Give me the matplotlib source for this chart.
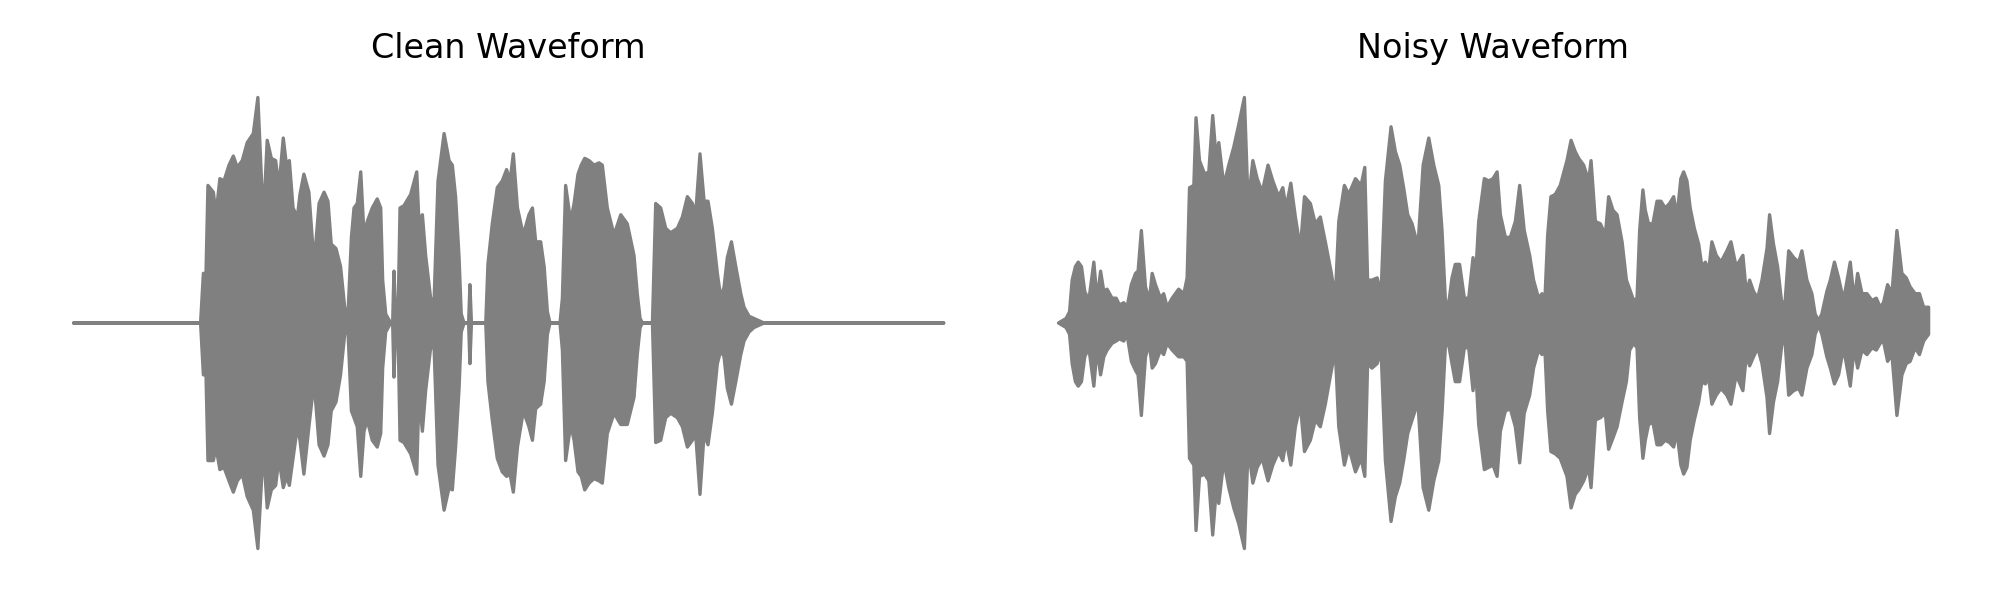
import numpy as np
import matplotlib
matplotlib.use("Agg")
import matplotlib.pyplot as plt

# envelope of each waveform (time in s, amplitude normalised)
clean_t = [0.0, 0.585, 0.598, 0.610, 0.619, 0.644, 0.656, 0.674, 0.693, 0.716,
           0.736, 0.754, 0.777, 0.800, 0.828, 0.849, 0.874, 0.892, 0.911, 0.931,
           0.946, 0.966, 0.982, 0.994, 1.011, 1.031, 1.043, 1.061, 1.084, 1.108,
           1.131, 1.154, 1.172, 1.187, 1.209, 1.230, 1.249, 1.264, 1.280, 1.292,
           1.307, 1.323, 1.338, 1.353, 1.376, 1.399, 1.415, 1.424, 1.438, 1.461,
           1.470, 1.476, 1.485, 1.495, 1.504, 1.522, 1.553, 1.581, 1.591, 1.607,
           1.622, 1.645, 1.661, 1.679, 1.707, 1.730, 1.745, 1.760, 1.776, 1.786,
           1.799, 1.820, 1.826, 1.833, 1.899, 1.909, 1.929, 1.952, 1.975, 1.995,
           2.011, 2.026, 2.045, 2.072, 2.098, 2.114, 2.129, 2.152, 2.168, 2.183,
           2.195, 2.241, 2.252, 2.267, 2.290, 2.306, 2.324, 2.339, 2.355, 2.375,
           2.398, 2.421, 2.436, 2.459, 2.490, 2.521, 2.551, 2.582, 2.597, 2.610,
           2.621, 2.667, 2.682, 2.705, 2.728, 2.751, 2.782, 2.805, 2.828, 2.851,
           2.866, 2.886, 2.905, 2.923, 2.943, 2.966, 2.982, 2.997, 3.012, 3.031,
           3.051, 3.074, 3.089, 3.112, 3.135, 3.158, 3.181, 4.009]
clean_upper = [0, 0, 0.22, 0.22, 0.61, 0.58, 0.48, 0.64, 0.63, 0.70,
               0.74, 0.69, 0.72, 0.80, 0.84, 1.00, 0.45, 0.81, 0.73, 0.72,
               0.60, 0.82, 0.69, 0.72, 0.51, 0.47, 0.57, 0.66, 0.58, 0.26,
               0.53, 0.58, 0.54, 0.35, 0.33, 0.25, 0.07, 0.03, 0.38, 0.51,
               0.53, 0.67, 0.39, 0.45, 0.51, 0.55, 0.51, 0.19, 0.04, 0,
               0, 0.23, 0, 0.04, 0.51, 0.52, 0.57, 0.67, 0.45, 0.48,
               0.30, 0.11, 0.10, 0.63, 0.84, 0.72, 0.70, 0.56, 0.29, 0.04,
               0, 0, 0.17, 0, 0, 0.26, 0.44, 0.60, 0.63, 0.68,
               0.63, 0.75, 0.51, 0.39, 0.48, 0.51, 0.36, 0.36, 0.25, 0.05,
               0, 0, 0.11, 0.61, 0.45, 0.53, 0.66, 0.70, 0.73, 0.72,
               0.70, 0.71, 0.70, 0.51, 0.39, 0.48, 0.44, 0.30, 0.13, 0.02,
               0, 0, 0.53, 0.51, 0.42, 0.40, 0.42, 0.47, 0.56, 0.53,
               0.48, 0.75, 0.54, 0.54, 0.42, 0.22, 0.11, 0.16, 0.29, 0.36,
               0.25, 0.13, 0.07, 0.03, 0.02, 0.01, 0, 0]
clean_lower = [0, 0, -0.23, -0.23, -0.61, -0.61, -0.55, -0.65, -0.64, -0.70,
               -0.75, -0.70, -0.67, -0.77, -0.83, -1.00, -0.55, -0.82, -0.74, -0.72,
               -0.60, -0.73, -0.68, -0.72, -0.60, -0.46, -0.52, -0.67, -0.46, -0.26,
               -0.54, -0.59, -0.54, -0.39, -0.35, -0.23, -0.05, -0.03, -0.39, -0.42,
               -0.46, -0.68, -0.48, -0.43, -0.52, -0.55, -0.49, -0.20, -0.04, 0,
               0, -0.24, 0, -0.04, -0.52, -0.53, -0.58, -0.67, -0.32, -0.48,
               -0.30, -0.11, -0.11, -0.63, -0.83, -0.73, -0.74, -0.55, -0.29, -0.04,
               0, 0, -0.18, 0, 0, -0.26, -0.43, -0.60, -0.66, -0.68,
               -0.67, -0.75, -0.55, -0.39, -0.46, -0.52, -0.38, -0.36, -0.26, -0.05,
               0, 0, -0.12, -0.61, -0.45, -0.52, -0.66, -0.68, -0.74, -0.71,
               -0.69, -0.70, -0.71, -0.49, -0.40, -0.45, -0.45, -0.33, -0.14, -0.02,
               0, 0, -0.53, -0.52, -0.42, -0.40, -0.42, -0.46, -0.55, -0.52,
               -0.49, -0.76, -0.49, -0.54, -0.40, -0.18, -0.12, -0.15, -0.29, -0.36,
               -0.26, -0.14, -0.08, -0.04, -0.02, -0.01, 0, 0]

noisy_t = [0.0, 0.035, 0.051, 0.063, 0.078, 0.091, 0.106, 0.121, 0.140, 0.163,
           0.178, 0.194, 0.209, 0.224, 0.247, 0.266, 0.281, 0.301, 0.316, 0.336,
           0.355, 0.367, 0.382, 0.401, 0.419, 0.432, 0.447, 0.470, 0.485, 0.501,
           0.524, 0.554, 0.578, 0.593, 0.604, 0.624, 0.634, 0.650, 0.674, 0.693,
           0.711, 0.727, 0.739, 0.762, 0.785, 0.808, 0.831, 0.857, 0.874, 0.896,
           0.916, 0.939, 0.966, 0.988, 1.015, 1.034, 1.049, 1.071, 1.092, 1.115,
           1.134, 1.161, 1.184, 1.207, 1.230, 1.258, 1.276, 1.292, 1.318, 1.338,
           1.369, 1.395, 1.412, 1.425, 1.445, 1.469, 1.487, 1.507, 1.533, 1.553,
           1.573, 1.591, 1.610, 1.630, 1.657, 1.681, 1.707, 1.730, 1.753, 1.768,
           1.783, 1.794, 1.814, 1.829, 1.849, 1.871, 1.891, 1.911, 1.922, 1.937,
           1.963, 1.983, 2.003, 2.022, 2.037, 2.060, 2.083, 2.106, 2.126, 2.147,
           2.172, 2.190, 2.213, 2.229, 2.240, 2.255, 2.270, 2.290, 2.313, 2.344,
           2.363, 2.382, 2.398, 2.421, 2.444, 2.455, 2.475, 2.498, 2.521, 2.536,
           2.556, 2.575, 2.598, 2.618, 2.633, 2.651, 2.667, 2.679, 2.694, 2.705,
           2.720, 2.740, 2.759, 2.777, 2.797, 2.817, 2.836, 2.851, 2.869, 2.882,
           2.897, 2.912, 2.931, 2.951, 2.966, 2.982, 2.997, 3.012, 3.032, 3.054,
           3.081, 3.100, 3.124, 3.155, 3.171, 3.186, 3.204, 3.223, 3.243, 3.266,
           3.278, 3.296, 3.315, 3.335, 3.350, 3.366, 3.389, 3.412, 3.427, 3.450,
           3.473, 3.488, 3.504, 3.519, 3.542, 3.558, 3.577, 3.596, 3.619, 3.650,
           3.668, 3.684, 3.704, 3.727, 3.750, 3.770, 3.788, 3.803, 3.822, 3.842,
           3.865, 3.888, 3.908, 3.926, 3.949, 3.969, 3.988, 4.011]
noisy_upper = [0, 0.02, 0.05, 0.19, 0.25, 0.27, 0.25, 0.14, 0.10, 0.27,
               0.10, 0.23, 0.14, 0.15, 0.11, 0.11, 0.08, 0.09, 0.07, 0.17,
               0.22, 0.23, 0.41, 0.16, 0.10, 0.22, 0.17, 0.11, 0.13, 0.07,
               0.11, 0.15, 0.13, 0.20, 0.60, 0.61, 0.91, 0.72, 0.66, 0.67,
               0.92, 0.73, 0.80, 0.61, 0.70, 0.78, 0.88, 1.00, 0.53, 0.72,
               0.64, 0.58, 0.70, 0.63, 0.56, 0.60, 0.51, 0.62, 0.47, 0.33,
               0.56, 0.53, 0.44, 0.47, 0.36, 0.22, 0.11, 0.45, 0.61, 0.57,
               0.64, 0.61, 0.69, 0.19, 0.19, 0.20, 0.13, 0.63, 0.87, 0.76,
               0.70, 0.60, 0.48, 0.44, 0.34, 0.70, 0.82, 0.70, 0.61, 0.41,
               0.11, 0.05, 0.20, 0.26, 0.26, 0.11, 0.11, 0.29, 0.19, 0.45,
               0.64, 0.63, 0.64, 0.67, 0.48, 0.38, 0.38, 0.45, 0.61, 0.41,
               0.30, 0.19, 0.11, 0.13, 0.05, 0.39, 0.56, 0.57, 0.61, 0.72,
               0.81, 0.76, 0.73, 0.70, 0.63, 0.72, 0.45, 0.44, 0.39, 0.56,
               0.50, 0.48, 0.36, 0.19, 0.15, 0.10, 0.11, 0.41, 0.59, 0.50,
               0.44, 0.44, 0.54, 0.54, 0.51, 0.53, 0.56, 0.47, 0.64, 0.67,
               0.63, 0.51, 0.42, 0.35, 0.25, 0.27, 0.23, 0.36, 0.30, 0.27,
               0.32, 0.36, 0.25, 0.30, 0.13, 0.19, 0.14, 0.11, 0.19, 0.33,
               0.48, 0.35, 0.25, 0.08, 0.10, 0.32, 0.29, 0.27, 0.32, 0.19,
               0.13, 0.04, 0.01, 0.04, 0.14, 0.19, 0.27, 0.20, 0.10, 0.27,
               0.10, 0.22, 0.13, 0.13, 0.10, 0.11, 0.07, 0.09, 0.17, 0.13,
               0.41, 0.22, 0.20, 0.16, 0.13, 0.13, 0.07, 0.07]
noisy_lower = [0, -0.02, -0.05, -0.18, -0.26, -0.28, -0.26, -0.15, -0.11, -0.28,
               -0.11, -0.23, -0.15, -0.12, -0.09, -0.08, -0.07, -0.08, -0.05, -0.17,
               -0.21, -0.23, -0.41, -0.15, -0.09, -0.20, -0.18, -0.12, -0.14, -0.09,
               -0.12, -0.15, -0.15, -0.17, -0.60, -0.63, -0.92, -0.68, -0.67, -0.70,
               -0.94, -0.74, -0.80, -0.61, -0.73, -0.82, -0.89, -1.00, -0.55, -0.71,
               -0.64, -0.60, -0.70, -0.63, -0.57, -0.61, -0.52, -0.63, -0.46, -0.36,
               -0.57, -0.52, -0.43, -0.46, -0.36, -0.21, -0.12, -0.46, -0.63, -0.55,
               -0.66, -0.60, -0.68, -0.18, -0.20, -0.18, -0.12, -0.61, -0.88, -0.77,
               -0.71, -0.61, -0.49, -0.43, -0.35, -0.73, -0.83, -0.70, -0.61, -0.40,
               -0.11, -0.07, -0.18, -0.26, -0.26, -0.11, -0.11, -0.30, -0.18, -0.45,
               -0.65, -0.64, -0.63, -0.68, -0.48, -0.39, -0.38, -0.46, -0.62, -0.40,
               -0.32, -0.20, -0.12, -0.14, -0.07, -0.39, -0.57, -0.58, -0.60, -0.68,
               -0.82, -0.76, -0.74, -0.70, -0.64, -0.73, -0.43, -0.42, -0.40, -0.56,
               -0.51, -0.46, -0.35, -0.26, -0.12, -0.09, -0.11, -0.42, -0.60, -0.52,
               -0.45, -0.44, -0.54, -0.54, -0.52, -0.53, -0.55, -0.48, -0.63, -0.67,
               -0.64, -0.52, -0.43, -0.35, -0.26, -0.27, -0.24, -0.36, -0.32, -0.29,
               -0.32, -0.36, -0.23, -0.30, -0.14, -0.19, -0.15, -0.11, -0.18, -0.33,
               -0.49, -0.35, -0.26, -0.09, -0.09, -0.32, -0.30, -0.29, -0.32, -0.20,
               -0.14, -0.05, -0.01, -0.05, -0.15, -0.20, -0.27, -0.23, -0.11, -0.28,
               -0.11, -0.20, -0.12, -0.14, -0.11, -0.12, -0.09, -0.08, -0.17, -0.14,
               -0.41, -0.23, -0.18, -0.17, -0.11, -0.14, -0.08, -0.05]

titles = ["Clean Waveform", "Noisy Waveform"]

fig, axes = plt.subplots(1, 2, figsize=(10, 3), dpi=200)
fig.subplots_adjust(left=0.0148, right=0.9858, bottom=0.049, top=0.876, wspace=0.029)

series = [(clean_t, clean_upper, clean_lower), (noisy_t, noisy_upper, noisy_lower)]
for ax, (t, up, lo), title in zip(axes, series, titles):
    ax.fill_between(t, lo, up, color="gray", edgecolor="gray", linewidth=1.2)
    ax.set_title(title, fontsize=12)
    ax.axis("off")

fig.savefig("out.png", dpi=200)
